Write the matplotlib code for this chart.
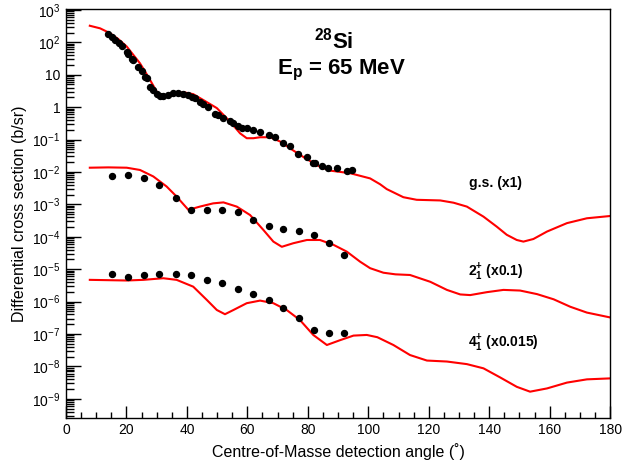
import numpy as np
import matplotlib
matplotlib.use("Agg")
import matplotlib.pyplot as plt
from matplotlib.ticker import FixedLocator, FixedFormatter, MultipleLocator

plt.rcParams['font.family'] = ['Liberation Sans', 'DejaVu Sans']
plt.rcParams['mathtext.fontset'] = 'custom'
plt.rcParams['mathtext.rm'] = 'Liberation Sans'
plt.rcParams['mathtext.it'] = 'Liberation Sans:italic'
plt.rcParams['mathtext.bf'] = 'Liberation Sans:bold'

# ---- experimental data (angle in deg, log10 of cross section) ----
gs_exp_x = [14.0, 15.1, 16.2, 17.7, 18.4, 20.1, 20.6, 21.7, 22.3, 23.9, 25.0, 26.1,
            26.7, 27.8, 28.9, 30.0, 31.1, 32.2, 33.9, 35.5, 37.2, 38.8, 40.5, 41.6,
            42.7, 44.3, 45.4, 47.1, 49.3, 50.4, 52.1, 54.3, 55.4, 57.0, 58.1, 59.8,
            62.0, 64.2, 67.0, 69.2, 71.9, 74.1, 76.9, 79.6, 81.8, 82.4, 84.6, 86.8,
            89.6, 92.9, 94.5]
gs_exp_log = [2.25, 2.16, 2.07, 1.97, 1.90, 1.71, 1.64, 1.48, 1.44, 1.25, 1.12, 0.94,
              0.89, 0.63, 0.53, 0.40, 0.33, 0.33, 0.38, 0.43, 0.43, 0.40, 0.38, 0.31,
              0.27, 0.17, 0.09, 0.00, -0.21, -0.24, -0.34, -0.42, -0.50, -0.58, -0.63, -0.65,
              -0.72, -0.76, -0.86, -0.93, -1.12, -1.20, -1.44, -1.53, -1.71, -1.73, -1.82, -1.87,
              -1.89, -1.96, -1.94]

ex2_exp_x = [15.4, 20.6, 25.9, 30.9, 36.3, 41.4, 46.6, 51.7, 56.8, 61.8, 67.0, 71.9,
             77.2, 82.2, 87.1, 92.1]
ex2_exp_log = [-2.14, -2.11, -2.20, -2.41, -2.80, -3.18, -3.19, -3.16, -3.25, -3.48, -3.68, -3.76,
               -3.81, -3.94, -4.18, -4.56]

ex4_exp_x = ex2_exp_x
ex4_exp_log = [-5.15, -5.24, -5.19, -5.14, -5.14, -5.19, -5.32, -5.44, -5.62, -5.78, -5.95, -6.19,
               -6.52, -6.88, -6.97, -6.98]

# ---- calculations ----
gs_th_x = [7.9, 11.3, 14.6, 17.3, 20.1, 24.5, 27.2, 30.0, 32.2, 35.5, 38.8, 42.1,
           45.4, 49.9, 54.3, 57.6, 59.8, 62.0, 64.2, 67.5, 70.8, 74.9, 79.2, 84.0,
           87.4, 90.7, 94.0, 97.3, 100.6, 103.9, 106.1, 111.6, 116.0, 123.8, 128.2, 132.6,
           138.1, 142.5, 145.8, 149.1, 151.3, 154.6, 159.1, 165.7, 172.3, 180.0]
gs_th_log = [2.51, 2.43, 2.28, 2.10, 1.87, 1.35, 0.94, 0.48, 0.29, 0.38, 0.46, 0.40,
             0.22, -0.03, -0.45, -0.81, -0.96, -0.96, -0.93, -0.93, -1.06, -1.32, -1.58, -1.84,
             -1.96, -2.00, -2.04, -2.12, -2.20, -2.38, -2.53, -2.78, -2.86, -2.88, -2.95, -3.07,
             -3.38, -3.69, -3.94, -4.10, -4.15, -4.07, -3.84, -3.58, -3.43, -3.36]

ex2_th_x = [7.9, 14.0, 20.1, 24.5, 28.9, 33.3, 36.6, 40.5, 44.3, 48.7, 52.1, 56.5,
            60.9, 65.3, 68.6, 71.4, 75.2, 79.7, 84.0, 88.5, 92.9, 97.3, 100.6, 105.0,
            109.0, 113.8, 120.5, 126.0, 130.4, 133.7, 139.2, 144.7, 150.2, 155.8, 161.3, 166.8,
            172.3, 180.0]
ex2_th_log = [-1.87, -1.86, -1.87, -1.94, -2.14, -2.45, -2.76, -3.17, -3.07, -2.97, -2.94, -3.07,
              -3.33, -3.79, -4.15, -4.31, -4.20, -4.10, -4.10, -4.25, -4.46, -4.77, -4.97, -5.11,
              -5.16, -5.18, -5.39, -5.64, -5.78, -5.80, -5.71, -5.64, -5.66, -5.77, -5.93, -6.16,
              -6.34, -6.49]

ex4_th_x = [7.9, 14.0, 20.1, 25.6, 32.2, 36.6, 42.1, 46.6, 49.9, 52.6, 55.4, 59.8,
            64.2, 68.6, 73.0, 77.4, 81.8, 86.3, 90.7, 95.1, 99.5, 103.0, 108.3, 113.8,
            119.4, 126.0, 132.6, 138.1, 143.6, 149.1, 153.5, 159.1, 165.7, 172.3, 180.0]
ex4_th_log = [-5.33, -5.34, -5.35, -5.33, -5.28, -5.33, -5.54, -5.95, -6.26, -6.39, -6.26, -6.05,
              -5.97, -6.05, -6.26, -6.57, -7.03, -7.34, -7.19, -7.05, -7.03, -7.10, -7.34, -7.65,
              -7.82, -7.85, -7.93, -8.06, -8.34, -8.63, -8.78, -8.68, -8.50, -8.40, -8.37]

decades = list(range(-9, 4))

fig = plt.figure(figsize=(6.22, 4.68), dpi=100)
ax = fig.add_axes([0.106, 0.107, 0.875, 0.874])

for tx, tl in [(gs_th_x, gs_th_log), (ex2_th_x, ex2_th_log), (ex4_th_x, ex4_th_log)]:
    ax.plot(tx, 10.0 ** np.array(tl), color='red', lw=1.5, zorder=2)
for ex, el in [(gs_exp_x, gs_exp_log), (ex2_exp_x, ex2_exp_log), (ex4_exp_x, ex4_exp_log)]:
    ax.plot(ex, 10.0 ** np.array(el), 'o', color='black', ms=4.3, mec='black', zorder=3)

ax.set_yscale('log')
ax.set_xlim(0, 180)
ax.set_ylim(10 ** -9.59, 10 ** 3.03)

ax.xaxis.set_major_locator(MultipleLocator(20))
ax.xaxis.set_minor_locator(MultipleLocator(5))
ax.yaxis.set_major_locator(FixedLocator([10.0 ** k for k in decades]))
ylabels = []
for k in decades:
    if k == 0:
        ylabels.append('1')
    elif k == 1:
        ylabels.append('10')
    else:
        ylabels.append(r'$10^{%d}$' % k)
ax.yaxis.set_major_formatter(FixedFormatter(ylabels))
ax.yaxis.set_minor_locator(FixedLocator([m * 10.0 ** k for k in range(-10, 3) for m in range(2, 10)]))
ax.yaxis.set_minor_formatter(FixedFormatter([]))

ax.tick_params(axis='both', which='both', direction='in', top=False, right=False,
               labelsize=10, width=1.0, color='black')
ax.tick_params(axis='x', which='major', length=8.5, pad=4)
ax.tick_params(axis='x', which='minor', length=4.5)
ax.tick_params(axis='y', which='major', length=11, pad=4)
ax.tick_params(axis='y', which='minor', length=5.5)
for s in ax.spines.values():
    s.set_linewidth(1.0)

ax.set_xlabel('Centre-of-Masse detection angle (\u02da)', fontsize=11.5)
ax.set_ylabel('Differential cross section (b/sr)', fontsize=11.5, labelpad=4)

ax.text(88.5, 10 ** 2.05, r'$\mathbf{^{28}}$Si', fontsize=16, fontweight='bold', ha='center', va='center')
ax.text(91.3, 10 ** 1.12, r'E$_\mathbf{p}$ = 65 MeV', fontsize=16, fontweight='bold', ha='center', va='center')
ax.text(142, 10 ** -2.34, 'g.s. (x1)', fontsize=10, fontweight='bold', ha='center', va='center')
ax.text(142, 10 ** -5.09, r'2$^\mathbf{+}_\mathbf{1}$ (x0.1)', fontsize=10, fontweight='bold', ha='center', va='center')
ax.text(144.6, 10 ** -7.28, r'4$^\mathbf{+}_\mathbf{1}$ (x0.015)', fontsize=10, fontweight='bold', ha='center', va='center')

fig.savefig('out.png', dpi=100)
